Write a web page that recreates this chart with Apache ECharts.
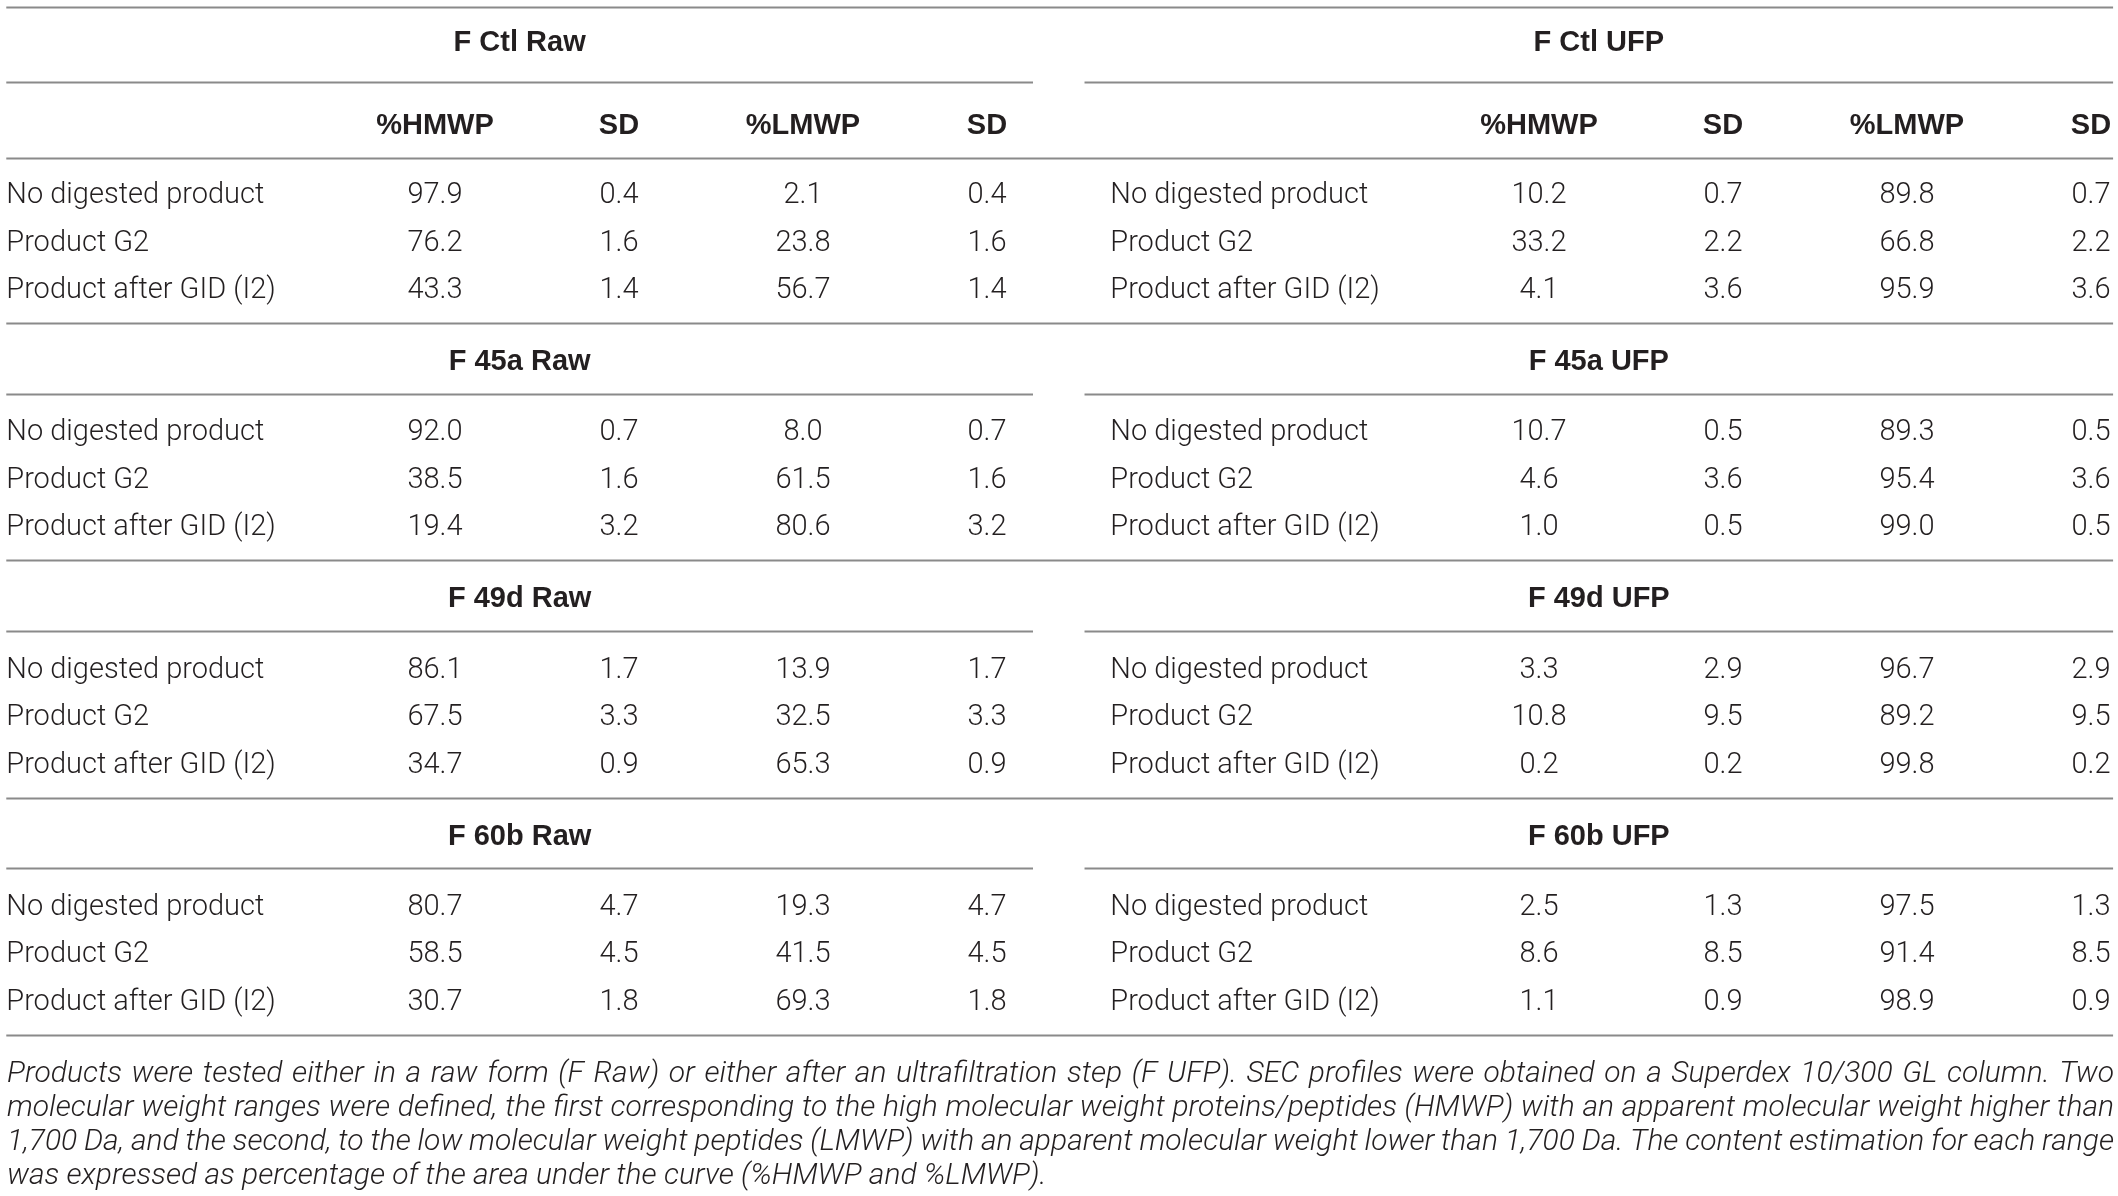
<!DOCTYPE html>
<html style="height: 1196px;width: 2118px;">
<head>
  <meta charset="UTF-8">
  <title>SEC profiles</title>
  <style>
    html, body { margin: 0; padding: 0; background: #ffffff; }
    #table_chart { width: 2118px; height: 1196px; }
  </style>
</head>
<body>
<div id="table_chart"></div>
<script src="https://cdn.jsdelivr.net/npm/echarts@6/dist/echarts.min.js"></script>
<script>
// table content
var rawGroups = ['F Ctl Raw', 'F 45a Raw', 'F 49d Raw', 'F 60b Raw'];
var ufpGroups = ['F Ctl UFP', 'F 45a UFP', 'F 49d UFP', 'F 60b UFP'];
var headers = ['%HMWP', 'SD', '%LMWP', 'SD'];
var products = ['No digested product', 'Product G2', 'Product after GID (I2)'];

// 3 products per group, groups in order Ctl, 45a, 49d, 60b
var rawHMWP = [97.9, 76.2, 43.3, 92.0, 38.5, 19.4, 86.1, 67.5, 34.7, 80.7, 58.5, 30.7];
var rawLMWP = [2.1, 23.8, 56.7, 8.0, 61.5, 80.6, 13.9, 32.5, 65.3, 19.3, 41.5, 69.3];
var rawSD = [0.4, 1.6, 1.4, 0.7, 1.6, 3.2, 1.7, 3.3, 0.9, 4.7, 4.5, 1.8];
var ufpHMWP = [10.2, 33.2, 4.1, 10.7, 4.6, 1.0, 3.3, 10.8, 0.2, 2.5, 8.6, 1.1];
var ufpLMWP = [89.8, 66.8, 95.9, 89.3, 95.4, 99.0, 96.7, 89.2, 99.8, 97.5, 91.4, 98.9];
var ufpSD = [0.7, 2.2, 3.6, 0.5, 3.6, 0.5, 2.9, 9.5, 0.2, 1.3, 8.5, 0.9];

var footnote = [
  'Products were tested either in a raw form (F Raw) or either after an ultrafiltration step (F UFP). SEC profiles were obtained on a Superdex 10/300 GL column. Two',
  'molecular weight ranges were defined, the first corresponding to the high molecular weight proteins/peptides (HMWP) with an apparent molecular weight higher than',
  '1,700 Da, and the second, to the low molecular weight peptides (LMWP) with an apparent molecular weight lower than 1,700 Da. The content estimation for each range',
  'was expressed as percentage of the area under the curve (%HMWP and %LMWP).'
];

var FONT = 'Roboto, "Liberation Sans", sans-serif';
var BOLD_FONT = '"Liberation Sans", Arial, sans-serif';
var TEXT_COLOR = '#231f20';
var RULE_COLOR = '#8a8a8a';

// column grid: label col 0, numbers 1-4, (gap 5), label col 6, numbers 7-10
var LABEL_SHIFT = 1.33;   // label text starts left of its column centre
var EDGE_L = -1.33, EDGE_R = 10.12, MID_L = 4.25, MID_R = 4.53;

// row grid (units of one row pitch)
function rowY(g, r) { return 4.06 + 5 * g + r; }
function titleY(g) { return g === 0 ? 0.84 : rowY(g, 0) - 1.5; }
var HEADER_Y = 2.59;
var TEXT_DROP = 0.07;   // text sits a little below the row centre

function fmt(v) { return v.toFixed(1); }

var cells = [];
var rules = [];
rules.push([EDGE_L, EDGE_R, 0.15]);
for (var g = 0; g < 4; g++) {
  cells.push({ x: (EDGE_L + MID_L) / 2, y: titleY(g), text: rawGroups[g], kind: 'title' });
  cells.push({ x: (MID_R + EDGE_R) / 2, y: titleY(g), text: ufpGroups[g], kind: 'title' });
  var ty = titleY(g) + (g === 0 ? 0.89 : 0.74);
  rules.push([EDGE_L, MID_L, ty]);
  rules.push([MID_R, EDGE_R, ty]);
  if (g === 0) {
    for (var h = 0; h < headers.length; h++) {
      cells.push({ x: 1 + h, y: HEADER_Y, text: headers[h], kind: 'head' });
      cells.push({ x: 7 + h, y: HEADER_Y, text: headers[h], kind: 'head' });
    }
    rules.push([EDGE_L, EDGE_R, HEADER_Y + 0.74]);
  }
  for (var r = 0; r < products.length; r++) {
    var i = g * 3 + r;
    var y = rowY(g, r);
    cells.push({ x: 0 - LABEL_SHIFT, y: y, text: products[r], kind: 'label' });
    cells.push({ x: 1, y: y, text: fmt(rawHMWP[i]), kind: 'num' });
    cells.push({ x: 2, y: y, text: fmt(rawSD[i]), kind: 'num' });
    cells.push({ x: 3, y: y, text: fmt(rawLMWP[i]), kind: 'num' });
    cells.push({ x: 4, y: y, text: fmt(rawSD[i]), kind: 'num' });
    cells.push({ x: 6 - LABEL_SHIFT, y: y, text: products[r], kind: 'label' });
    cells.push({ x: 7, y: y, text: fmt(ufpHMWP[i]), kind: 'num' });
    cells.push({ x: 8, y: y, text: fmt(ufpSD[i]), kind: 'num' });
    cells.push({ x: 9, y: y, text: fmt(ufpLMWP[i]), kind: 'num' });
    cells.push({ x: 10, y: y, text: fmt(ufpSD[i]), kind: 'num' });
  }
  rules.push([EDGE_L, EDGE_R, rowY(g, 2) + 0.75]);
}

function cellStyle(c) {
  var bold = c.kind === 'title' || c.kind === 'head';
  return {
    text: c.text,
    fill: TEXT_COLOR,
    fontFamily: bold ? BOLD_FONT : FONT,
    fontSize: bold ? 29 : 29,
    fontWeight: bold ? 'bold' : 300,
    align: c.kind === 'label' ? 'left' : 'center',
    verticalAlign: 'middle'
  };
}

// footnote, justified like the printed caption
var FOOT_FONT_SIZE = 30;
var FOOT_FONT = 'italic 300 ' + FOOT_FONT_SIZE + 'px ' + FONT;
var FOOT_LEFT = 7, FOOT_RIGHT = 2114, FOOT_TOP = 1074, FOOT_LINE = 34.3;
var measureCtx = document.createElement('canvas').getContext('2d');
measureCtx.font = FOOT_FONT;

function footnoteGraphics() {
  var items = [];
  for (var l = 0; l < footnote.length; l++) {
    var words = footnote[l].split(' ');
    var widths = words.map(function (w) { return measureCtx.measureText(w).width; });
    var total = widths.reduce(function (a, b) { return a + b; }, 0);
    var last = l === footnote.length - 1;
    var gap = last ? measureCtx.measureText(' ').width : (FOOT_RIGHT - FOOT_LEFT - total) / (words.length - 1);
    var x = FOOT_LEFT;
    for (var w = 0; w < words.length; w++) {
      items.push({
        type: 'text',
        x: x,
        y: FOOT_TOP + l * FOOT_LINE,
        style: {
          text: words[w],
          fill: TEXT_COLOR,
          fontFamily: FONT,
          fontSize: FOOT_FONT_SIZE,
          fontStyle: 'italic',
          fontWeight: 300,
          align: 'left',
          verticalAlign: 'middle'
        }
      });
      x += widths[w] + gap;
    }
  }
  return items;
}

var chart = echarts.init(document.getElementById('table_chart'), null, { renderer: 'canvas' });
chart.setOption({
  backgroundColor: '#ffffff',
  animation: false,
  grid: { left: 0, top: 0, right: 0, bottom: 0 },
  xAxis: { type: 'value', min: -251 / 184, max: (2118 - 251) / 184, show: false },
  yAxis: { type: 'value', inverse: true, min: 0, max: 1196 / 47.45, show: false },
  graphic: footnoteGraphics(),
  series: [
    {
      type: 'custom',
      clip: false,
      silent: true,
      data: rules,
      renderItem: function (params, api) {
        var a = api.coord([api.value(0), api.value(2)]);
        var b = api.coord([api.value(1), api.value(2)]);
        return {
          type: 'line',
          shape: { x1: a[0], y1: Math.round(a[1]) + 0.5, x2: b[0], y2: Math.round(b[1]) + 0.5 },
          style: { stroke: RULE_COLOR, lineWidth: 2 }
        };
      }
    },
    {
      type: 'custom',
      clip: false,
      silent: true,
      data: cells.map(function (c) { return [c.x, c.y + TEXT_DROP]; }),
      renderItem: function (params, api) {
        var p = api.coord([api.value(0), api.value(1)]);
        return { type: 'text', x: p[0], y: p[1], style: cellStyle(cells[params.dataIndex]) };
      }
    }
  ]
});
</script>
</body>
</html>
